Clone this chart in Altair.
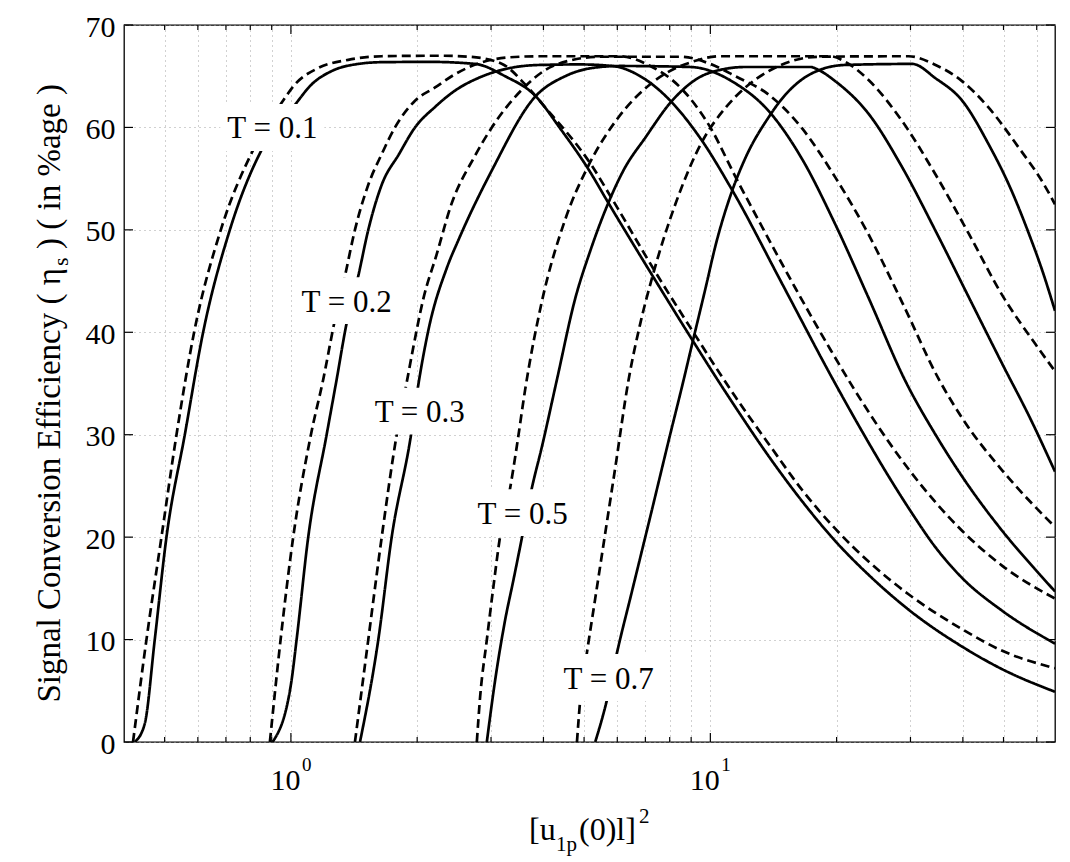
import altair as alt
import pandas as pd

SERIF = "Liberation Serif"

# ---- curve data: signal conversion efficiency (%) vs [u1p(0) l]^2 ----
# T = 0.1
t01_solid_x = [0.4243, 0.4483, 0.4736, 0.5050, 0.5585, 0.6176, 0.7152, 0.8513, 1.0222, 1.1205,
               1.2505, 1.4475, 1.6463, 2.1464, 2.7486, 3.2411, 3.823, 4.385, 5.124, 5.719,
               7.260, 9.042, 10.278, 11.473, 13.775, 16.554, 19.875, 23.87, 29.74, 39.875,
               49.68, 66.33]
t01_solid_y = [0, 1.8, 10, 20, 30, 40, 50, 57.8, 62.2, 64.2,
               65.5, 66.2, 66.37, 66.4, 66.2, 65.0, 63.1, 59.9, 55.9, 52.6,
               45.6, 39.3, 35.7, 32.7, 27.9, 23.5, 19.6, 16.3, 12.9, 9.3,
               7.1, 4.9]
t01_dash_x = [0.4203, 0.4525, 0.4913, 0.5336, 0.5878, 0.6806, 0.8128, 0.9502, 1.0222, 1.1620,
              1.3702, 1.6463, 2.2677, 2.6742, 3.1886, 3.618, 3.972, 5.229, 5.835, 7.391,
              9.209, 10.565, 11.473, 13.775, 16.554, 19.875, 23.87, 29.74, 39.875, 49.68,
              66.33]
t01_dash_y = [0, 10, 20, 30, 40, 50, 57.8, 62.4, 64.2, 65.8,
              66.6, 66.95, 67.0, 66.9, 66.2, 64.2, 62.3, 56.2, 53.0, 45.9,
              39.7, 35.9, 33.7, 29.1, 24.6, 20.8, 17.6, 14.4, 11.0, 8.9,
              7.2]

# T = 0.2
t02_solid_x = [0.9044, 1.0, 1.0318, 1.0997, 1.2167, 1.2855, 1.3580, 1.4475, 1.5292, 1.6463,
               1.8105, 1.9765, 2.2064, 2.4627, 2.8256, 3.332, 3.929, 4.895, 5.835, 6.806,
               7.809, 9.554, 11.267, 14.935, 19.66, 23.02, 26.64, 29.74, 34.43, 39.875,
               49.68, 66.33]
t02_solid_y = [0, 5.6, 10, 20, 30, 35.4, 40.9, 45.5, 50, 54.4,
               57.4, 60, 62.0, 63.6, 64.9, 65.8, 66.1, 66.15, 66.0, 65.0,
               63.1, 58.7, 53.9, 44.5, 35.3, 30.3, 25.9, 22.8, 19.0, 16.0,
               12.8, 9.6]
t02_dash_x = [0.8910, 0.9450, 1.0127, 1.1161, 1.1941, 1.2686, 1.3455, 1.4212, 1.5292, 1.6463,
              1.7708, 1.9765, 2.2064, 2.4627, 2.8256, 3.332, 3.929, 6.098, 7.191, 8.480,
              10.0, 11.473, 13.160, 15.955, 19.34, 21.98, 26.16, 29.74, 34.43, 39.875,
              49.68, 66.33]
t02_dash_y = [0, 10, 20, 30, 35.4, 40.9, 45.5, 50, 54.4, 57.4,
              60, 62.6, 63.9, 65.2, 66.3, 66.85, 66.95, 66.95, 66.0, 63.9,
              60.0, 55.2, 50.6, 44.3, 38.3, 34.5, 29.75, 26.6, 23.4, 20.6,
              17.2, 14.0]

# T = 0.3
t03_solid_x = [1.4611, 1.6158, 1.7388, 1.9338, 2.0096, 2.1268, 2.3594, 2.5079, 3.0130, 3.823,
               4.507, 5.220, 6.098, 8.959, 11.473, 13.775, 16.554, 19.875, 23.87, 29.21,
               34.43, 39.875, 49.68, 59.67, 66.33]
t03_solid_y = [0, 10, 20, 30, 34.7, 40.2, 46.4, 49.0, 55.8, 63.0,
               65.0, 65.8, 66.0, 65.9, 64.3, 61.6, 56.9, 50.5, 43.3, 35.2,
               30.0, 25.9, 20.6, 16.8, 14.7]
t03_dash_x = [1.4212, 1.5292, 1.6463, 1.7876, 1.8803, 1.9530, 2.0669, 2.2294, 2.4038, 2.7443,
              3.0130, 3.618, 4.038, 4.590, 5.464, 8.480, 10.0, 11.473, 13.775, 16.554,
              19.875, 23.87, 28.676, 35.07, 39.875, 49.68, 59.67, 66.33]
t03_dash_y = [0, 10, 20, 30, 34.7, 38.3, 43.2, 47.7, 52.3, 57.2,
              60.0, 64.0, 65.6, 66.5, 66.9, 66.9, 66.2, 65.0, 63.2, 59.9,
              55.1, 49.5, 42.9, 35.4, 31.6, 26.5, 22.9, 21.0]

# T = 0.5
t05_solid_x = [2.9314, 3.0690, 3.2411, 3.392, 3.565, 3.754, 3.9655, 4.306, 4.763, 5.178,
               5.668, 6.225, 6.997, 8.102, 9.906, 12.116, 17.326, 18.133, 19.875, 23.87,
               28.676, 34.43, 41.35, 49.68, 58.04, 66.33]
t05_solid_y = [0, 6.05, 11.9, 15.8, 20.2, 24.8, 28.8, 35.35, 43.3, 48.0,
               52.3, 55.9, 59.0, 62.6, 65.3, 65.9, 65.9, 65.6, 64.5, 61.3,
               56.1, 49.9, 43.4, 36.9, 31.5, 26.4]
t05_dash_x = [2.7749, 2.8256, 2.9314, 3.0402, 3.1536, 3.332, 3.457, 3.618, 3.9655, 4.507,
              5.124, 6.042, 7.391, 9.042, 10.565, 19.34, 20.998, 23.87, 28.676, 34.43,
              41.35, 49.68, 59.67, 66.33]
t05_dash_y = [0, 4.4, 9.96, 15.2, 20.1, 24.8, 28.9, 34.4, 43.0, 51.0,
              56.3, 61.0, 64.6, 66.4, 66.95, 66.95, 66.4, 64.6, 60.6, 55.4,
              49.6, 43.6, 38.8, 36.2]

# T = 0.7
t07_solid_x = [5.315, 5.668, 5.989, 6.503, 7.260, 7.952, 8.636, 9.042, 9.751, 10.278,
               11.267, 12.116, 13.775, 15.100, 16.554, 18.474, 20.998, 30.30, 34.43, 39.875,
               46.15, 51.51, 57.50, 61.89, 66.33]
t07_solid_y = [0, 4.1, 8.7, 14.7, 22.7, 29.4, 35.35, 38.8, 44.4, 48.4,
               53.8, 57.0, 61.0, 63.2, 64.7, 65.7, 66.1, 66.2, 64.8, 62.6,
               58.3, 54.4, 49.6, 46.0, 42.1]
t07_dash_x = [4.808, 4.895, 5.078, 5.315, 5.616, 5.934, 6.383, 6.802, 7.260, 8.251,
              9.554, 10.859, 12.116, 13.775, 15.67, 18.133, 29.69, 34.43, 39.875, 46.15,
              54.42, 61.89, 66.33]
t07_dash_y = [0, 4.1, 8.7, 14.0, 20.4, 26.8, 35.35, 40.8, 45.3, 52.5,
              58.6, 61.9, 63.9, 65.5, 66.5, 66.9, 66.95, 66.1, 64.5, 61.9,
              58.0, 54.7, 52.5]

curves = [
    ("0.1", "solid", t01_solid_x, t01_solid_y),
    ("0.1", "dashed", t01_dash_x, t01_dash_y),
    ("0.2", "solid", t02_solid_x, t02_solid_y),
    ("0.2", "dashed", t02_dash_x, t02_dash_y),
    ("0.3", "solid", t03_solid_x, t03_solid_y),
    ("0.3", "dashed", t03_dash_x, t03_dash_y),
    ("0.5", "solid", t05_solid_x, t05_solid_y),
    ("0.5", "dashed", t05_dash_x, t05_dash_y),
    ("0.7", "solid", t07_solid_x, t07_solid_y),
    ("0.7", "dashed", t07_dash_x, t07_dash_y),
]

# in-plot curve labels, placed in data coordinates
label_text = ["T = 0.1", "T = 0.2", "T = 0.3", "T = 0.5", "T = 0.7"]
label_x = [0.903, 1.358, 2.028, 3.568, 5.72]
label_y = [59.8, 42.9, 32.1, 22.2, 6.1]

# axis ticks
x_major = [1, 10]
x_minor = [0.5, 0.6, 0.7, 0.8, 0.9, 2, 3, 4, 5, 6, 7, 8, 9, 20, 30, 40, 50, 60]
y_ticks = [0, 10, 20, 30, 40, 50, 60, 70]
x_tick_base = ["10", "10"]
x_tick_exp = ["0", "1"]

rows = []
for t, style, xs_, ys_ in curves:
    for i, (xv, yv) in enumerate(zip(xs_, ys_)):
        rows.append({"T": t, "style": style, "series": f"{t}-{style}", "i": i, "x": xv, "y": yv})
lines_df = pd.DataFrame(rows)
labels_df = pd.DataFrame({"text": label_text, "x": label_x, "y": label_y})
xmaj_df = pd.DataFrame({"v": x_major, "base": x_tick_base, "exp": x_tick_exp})
xmin_df = pd.DataFrame({"v": x_minor})
y_df = pd.DataFrame({"v": y_ticks})

W, H = 931, 717
GRID = "#a3a3a3"

x_scale = alt.Scale(type="log", domain=[0.4, 66.33], nice=False)
y_scale = alt.Scale(domain=[0, 70], nice=False, zero=False)

x_axis = alt.Axis(values=x_minor + x_major, grid=True, gridDash=[1, 4], gridColor=GRID,
                  gridWidth=1, labels=False, ticks=False, domain=False, title=None)
y_axis = alt.Axis(values=y_ticks, grid=True, gridDash=[1, 4], gridColor=GRID, gridWidth=1,
                  ticks=False, domain=False, title=None, labelFont=SERIF, labelFontSize=30,
                  labelColor="black", labelPadding=9, labelOffset=2)


def X(field):
    return alt.X(field, type="quantitative", scale=x_scale, axis=x_axis)


def Y(field):
    return alt.Y(field, type="quantitative", scale=y_scale, axis=y_axis)


lines = alt.Chart(lines_df).mark_line(
    color="black", strokeWidth=2.7, interpolate="monotone", clip=True
).encode(
    x=X("x"),
    y=Y("y"),
    detail="series:N",
    order="i:Q",
    strokeDash=alt.StrokeDash("style:N", legend=None,
                              scale=alt.Scale(domain=["solid", "dashed"], range=[[1, 0], [9, 5]])),
)

# white boxes behind the curve labels
boxes = alt.Chart(labels_df).mark_point(
    shape="M-1,-0.45L1,-0.45L1,0.45L-1,0.45Z", size=10816, filled=True,
    color="white", opacity=1, strokeWidth=0, yOffset=-2
).encode(x=X("x"), y=Y("y"))

label_marks = alt.Chart(labels_df).mark_text(
    font=SERIF, fontSize=31, color="black", align="center", baseline="middle"
).encode(x=X("x"), y=Y("y"), text="text:N")


# inward tick marks on all four sides
def xticks(df, length):
    bottom = alt.Chart(df).mark_rule(color="black", strokeWidth=1.2).encode(
        x=X("v"), y=alt.value(H), y2=alt.value(H - length))
    top = alt.Chart(df).mark_rule(color="black", strokeWidth=1.2).encode(
        x=X("v"), y=alt.value(0), y2=alt.value(length))
    return [bottom, top]


yt_left = alt.Chart(y_df).mark_rule(color="black", strokeWidth=1.2).encode(
    y=Y("v"), x=alt.value(0), x2=alt.value(9))
yt_right = alt.Chart(y_df).mark_rule(color="black", strokeWidth=1.2).encode(
    y=Y("v"), x=alt.value(W), x2=alt.value(W - 9))

# x tick labels 10^0, 10^1
xlab_base = alt.Chart(xmaj_df).mark_text(
    font=SERIF, fontSize=30, color="black", align="right", baseline="alphabetic", dx=9.5
).encode(x=X("v"), y=alt.value(765), text="base:N")
xlab_exp = alt.Chart(xmaj_df).mark_text(
    font=SERIF, fontSize=19, color="black", align="left", baseline="alphabetic", dx=11
).encode(x=X("v"), y=alt.value(746), text="exp:N")


def piece(text, x, y, size, align="left", angle=0):
    return alt.Chart(pd.DataFrame({"t": [text]})).mark_text(
        font=SERIF, fontSize=size, color="black", align=align, baseline="alphabetic", angle=angle
    ).encode(x=alt.value(x), y=alt.value(y), text="t:N")


# x-axis title: [u_1p(0)l]^2
x_title = [
    piece("[u", 405, 815, 32),
    piece("1p", 432, 826, 21),
    piece("(0)l]", 455, 815, 32),
    piece("2", 515, 798, 21),
]

# y-axis title: Signal Conversion Efficiency ( η_s ) ( in %age )
y_title = [
    piece("Signal Conversion Efficiency ( \u03b7", -64, 243, 33, align="right", angle=270),
    piece("s", -56, 241, 22, align="left", angle=270),
    piece(") ( in %age )", -64, 224, 33, align="left", angle=270),
]

layers = [lines, boxes, label_marks] + xticks(xmaj_df, 9) + xticks(xmin_df, 5) + \
    [yt_left, yt_right, xlab_base, xlab_exp] + x_title + y_title

chart = alt.layer(*layers).properties(
    width=W, height=H,
    padding={"left": 124, "top": 25, "right": 15, "bottom": 120},
    autosize=alt.AutoSizeParams(type="none"),
).configure_view(stroke="black", strokeWidth=1.3)

chart.save("out.html", embed_options={"renderer": "svg", "actions": False})
